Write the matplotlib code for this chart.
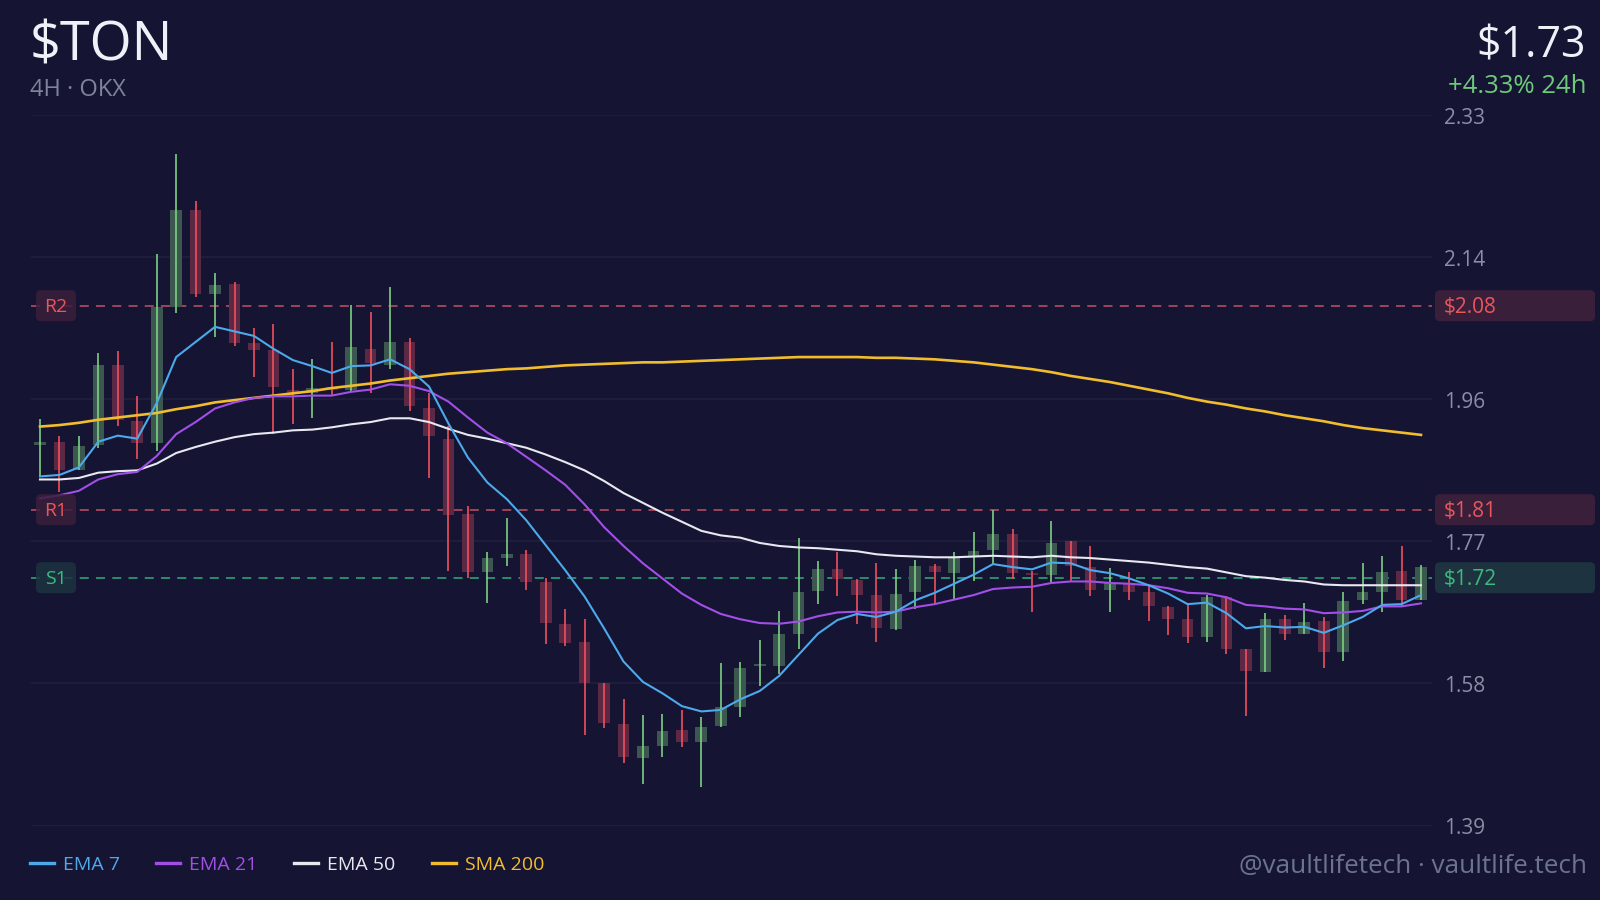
import numpy as np
import matplotlib
matplotlib.use("Agg")
import matplotlib.pyplot as plt
from matplotlib.patches import FancyBboxPatch

plt.rcParams['font.family'] = ['Open Sans', 'DejaVu Sans']

# 4H candles, $TON on OKX
opens = [1.896, 1.900, 1.863, 1.896, 2.001, 1.928, 1.898, 2.078, 2.207, 2.096,
         2.109, 2.030, 2.021, 1.969, 1.965, 1.973, 1.968, 2.023, 2.001, 2.032,
         1.944, 1.904, 1.804, 1.728, 1.746, 1.751, 1.714, 1.659, 1.635, 1.580,
         1.527, 1.482, 1.497, 1.518, 1.502, 1.524, 1.549, 1.603, 1.603, 1.646,
         1.702, 1.731, 1.717, 1.697, 1.652, 1.701, 1.735, 1.726, 1.748, 1.757,
         1.778, 1.726, 1.724, 1.768, 1.734, 1.704, 1.713, 1.701, 1.681, 1.665,
         1.641, 1.695, 1.625, 1.595, 1.665, 1.645, 1.663, 1.622, 1.691, 1.701,
         1.729, 1.690]
highs = [1.930, 1.908, 1.908, 2.018, 2.020, 1.960, 2.148, 2.281, 2.219, 2.123,
         2.112, 2.050, 2.056, 1.996, 2.010, 2.032, 2.081, 2.072, 2.105, 2.037,
         1.964, 1.921, 1.815, 1.754, 1.799, 1.756, 1.720, 1.678, 1.665, 1.581,
         1.559, 1.538, 1.540, 1.545, 1.536, 1.607, 1.609, 1.638, 1.676, 1.772,
         1.742, 1.754, 1.718, 1.739, 1.731, 1.743, 1.738, 1.754, 1.780, 1.810,
         1.785, 1.729, 1.795, 1.769, 1.762, 1.733, 1.728, 1.709, 1.682, 1.684,
         1.697, 1.696, 1.625, 1.673, 1.670, 1.687, 1.668, 1.701, 1.739, 1.749,
         1.762, 1.737]
lows = [1.854, 1.834, 1.862, 1.891, 1.921, 1.877, 1.888, 2.070, 2.092, 2.039,
        2.026, 1.985, 1.910, 1.923, 1.931, 1.960, 1.966, 1.965, 1.996, 1.940,
        1.852, 1.729, 1.720, 1.687, 1.735, 1.704, 1.632, 1.630, 1.512, 1.521,
        1.475, 1.447, 1.483, 1.496, 1.443, 1.523, 1.536, 1.576, 1.592, 1.625,
        1.685, 1.696, 1.659, 1.635, 1.651, 1.678, 1.684, 1.691, 1.715, 1.738,
        1.718, 1.675, 1.713, 1.714, 1.696, 1.674, 1.690, 1.663, 1.644, 1.634,
        1.635, 1.619, 1.537, 1.595, 1.637, 1.645, 1.600, 1.610, 1.685, 1.674,
        1.681, 1.690]
closes = [1.900, 1.862, 1.894, 2.001, 1.929, 1.898, 2.078, 2.207, 2.096, 2.107,
          2.030, 2.021, 1.972, 1.965, 1.971, 1.968, 2.025, 2.004, 2.032, 1.947,
          1.907, 1.803, 1.727, 1.746, 1.751, 1.714, 1.660, 1.634, 1.581, 1.528,
          1.483, 1.497, 1.517, 1.502, 1.522, 1.549, 1.601, 1.604, 1.646, 1.701,
          1.731, 1.718, 1.697, 1.653, 1.699, 1.735, 1.728, 1.748, 1.755, 1.778,
          1.726, 1.724, 1.766, 1.735, 1.704, 1.713, 1.701, 1.682, 1.665, 1.642,
          1.695, 1.626, 1.597, 1.665, 1.646, 1.661, 1.622, 1.689, 1.701, 1.727,
          1.690, 1.734]

ema7 = [1.854, 1.856, 1.866, 1.900, 1.908, 1.904, 1.951, 2.012, 2.032, 2.052,
        2.046, 2.040, 2.023, 2.008, 2.000, 1.991, 2.000, 2.001, 2.009, 1.996,
        1.973, 1.924, 1.879, 1.846, 1.824, 1.796, 1.763, 1.730, 1.695, 1.653,
        1.609, 1.582, 1.567, 1.550, 1.543, 1.545, 1.559, 1.570, 1.590, 1.618,
        1.646, 1.664, 1.672, 1.668, 1.675, 1.690, 1.700, 1.712, 1.724, 1.738,
        1.734, 1.731, 1.740, 1.739, 1.730, 1.726, 1.719, 1.710, 1.699, 1.685,
        1.687, 1.673, 1.653, 1.656, 1.654, 1.655, 1.647, 1.657, 1.668, 1.684,
        1.685, 1.697]
ema21 = [1.825, 1.829, 1.835, 1.850, 1.857, 1.860, 1.881, 1.910, 1.926, 1.944,
         1.952, 1.958, 1.960, 1.960, 1.961, 1.961, 1.966, 1.969, 1.976, 1.974,
         1.967, 1.953, 1.932, 1.912, 1.898, 1.880, 1.862, 1.843, 1.817, 1.787,
         1.762, 1.739, 1.719, 1.699, 1.684, 1.672, 1.665, 1.660, 1.659, 1.662,
         1.669, 1.674, 1.675, 1.674, 1.675, 1.681, 1.685, 1.691, 1.697, 1.705,
         1.707, 1.708, 1.713, 1.715, 1.715, 1.713, 1.712, 1.710, 1.706, 1.700,
         1.699, 1.694, 1.684, 1.682, 1.679, 1.678, 1.673, 1.674, 1.676, 1.682,
         1.682, 1.686]
ema50 = [1.850, 1.850, 1.852, 1.859, 1.861, 1.862, 1.871, 1.885, 1.893, 1.900,
         1.906, 1.910, 1.912, 1.915, 1.916, 1.919, 1.923, 1.926, 1.931, 1.931,
         1.926, 1.917, 1.909, 1.904, 1.898, 1.892, 1.883, 1.873, 1.862, 1.848,
         1.832, 1.819, 1.806, 1.794, 1.782, 1.776, 1.773, 1.766, 1.762, 1.760,
         1.759, 1.757, 1.755, 1.751, 1.749, 1.748, 1.747, 1.747, 1.748, 1.749,
         1.748, 1.747, 1.749, 1.747, 1.746, 1.744, 1.742, 1.740, 1.737, 1.734,
         1.732, 1.727, 1.722, 1.720, 1.717, 1.715, 1.711, 1.710, 1.710, 1.710,
         1.710, 1.710]
sma200 = [1.920, 1.922, 1.925, 1.929, 1.932, 1.935, 1.938, 1.943, 1.947, 1.952,
          1.955, 1.958, 1.961, 1.964, 1.967, 1.971, 1.974, 1.977, 1.981, 1.984,
          1.987, 1.990, 1.992, 1.994, 1.996, 1.997, 1.999, 2.001, 2.002, 2.003,
          2.004, 2.005, 2.005, 2.006, 2.007, 2.008, 2.009, 2.010, 2.011, 2.012,
          2.012, 2.012, 2.012, 2.011, 2.011, 2.010, 2.009, 2.007, 2.005, 2.002,
          1.999, 1.996, 1.992, 1.987, 1.983, 1.979, 1.974, 1.969, 1.964, 1.958,
          1.953, 1.949, 1.944, 1.940, 1.935, 1.931, 1.927, 1.922, 1.918, 1.915,
          1.912, 1.909]

levels = [("R2", 2.08, "$2.08"), ("R1", 1.81, "$1.81"), ("S1", 1.72, "$1.72")]
y_lo, y_hi = 1.392, 2.332

BG = '#151433'
GRID = '#201f3d'
UP, DOWN = '#7ccf82', '#f0505c'
UP_BODY, DOWN_BODY = '#3b574f', '#5c2945'

fig = plt.figure(figsize=(16, 9), dpi=100, facecolor=BG)
ax = fig.add_axes([30.6 / 1600, 1 - 825.5 / 900, 1401.1 / 1600, 710.2 / 900])
ax.set_facecolor(BG)
for s in ax.spines.values():
    s.set_visible(False)
ax.set_xticks([])
ax.set_yticks([])
ax.set_xlim(-0.483, 71.55)
ax.set_ylim(y_lo, y_hi)

ticks = np.linspace(y_lo, y_hi, 6)
for t in ticks:
    ax.axhline(t, color=GRID, lw=1.2, zorder=0)
    ax.text(1.0 + 12.3 / 1401.1, t - 0.004, f"{t:.2f}", transform=ax.get_yaxis_transform(),
            color='#8a8ea6', fontsize=15, va='center', ha='left', clip_on=False)

x = np.arange(len(opens))
o, h, l, c = map(np.array, (opens, highs, lows, closes))
up = c >= o
body_h = np.maximum(np.abs(c - o), 0.0025)
body_b = np.minimum(o, c)
ax.bar(x, body_h, bottom=body_b, width=0.6,
       color=np.where(up, UP_BODY, DOWN_BODY), zorder=2, linewidth=0)
ax.vlines(x, l, h, colors=np.where(up, UP, DOWN), lw=1.2, zorder=3)

ax.plot(x, sma200, color='#f2bd2c', lw=1.9, zorder=4)
ax.plot(x, ema50, color='#e8e8f0', lw=1.5, zorder=4)
ax.plot(x, ema21, color='#a24fe8', lw=1.5, zorder=4)
ax.plot(x, ema7, color='#4ca9ea', lw=1.5, zorder=4)

# support / resistance
to_in = lambda v: ax.transData.transform((0, v))[1] / fig.dpi
for name, val, tag in levels:
    red = name.startswith('R')
    lc = '#a8485c' if red else '#2c9670'
    tc = '#e8565c' if red else '#3dbb7c'
    fc = '#3a1f3b' if red else '#1d3340'
    ax.axhline(val, color=lc, lw=1.3, ls=(0, (5, 4)), zorder=1)
    yc = to_in(val)
    hh = 0.31
    fig.patches.append(FancyBboxPatch((0.36, yc - hh / 2), 0.40, hh,
                                      boxstyle='round,pad=0,rounding_size=0.05',
                                      transform=fig.dpi_scale_trans, fc=fc, ec='none',
                                      alpha=0.85, zorder=5))
    fig.text(0.56 / 16, (yc - 0.015) / 9, name, color=tc, fontsize=14, ha='center',
             va='center', zorder=6)
    fig.patches.append(FancyBboxPatch((14.35, yc - hh / 2), 1.60, hh,
                                      boxstyle='round,pad=0,rounding_size=0.05',
                                      transform=fig.dpi_scale_trans, fc=fc, ec='none',
                                      zorder=5))
    fig.text(14.44 / 16, (yc - 0.015) / 9, tag, color=tc, fontsize=15, ha='left',
             va='center', zorder=6)

# header
fig.text(30 / 1600, 1 - 60 / 900, "$TON", color='#eef2f8', fontsize=39, va='baseline')
fig.text(30 / 1600, 1 - 96 / 900, "4H · OKX", color='#7e849c', fontsize=17, va='baseline')
fig.text(1586 / 1600, 1 - 57 / 900, "$1.73", color='#eef2f8', fontsize=31,
         ha='right', va='baseline')
fig.text(1587 / 1600, 1 - 93 / 900, "+4.33% 24h", color='#6ec97a', fontsize=18.5,
         ha='right', va='baseline')

# legend
leg = [("EMA 7", '#4ca9ea', 30), ("EMA 21", '#a24fe8', 156),
       ("EMA 50", '#e8e8f0', 294), ("SMA 200", '#f2bd2c', 432)]
ly = 1 - 863 / 900
for lab, col, x0 in leg:
    fig.add_artist(plt.Line2D([x0 / 1600, (x0 + 23.5) / 1600], [ly, ly], color=col, lw=2.4))
    fig.text((x0 + 33) / 1600, ly - 0.002, lab, color=col, fontsize=14, va='center')

fig.text(1587 / 1600, 1 - 873 / 900, "@vaultlifetech · vaultlife.tech", color='#6c7290',
         fontsize=18.8, ha='right', va='baseline')

fig.savefig('out.png', dpi=100, facecolor=BG)
